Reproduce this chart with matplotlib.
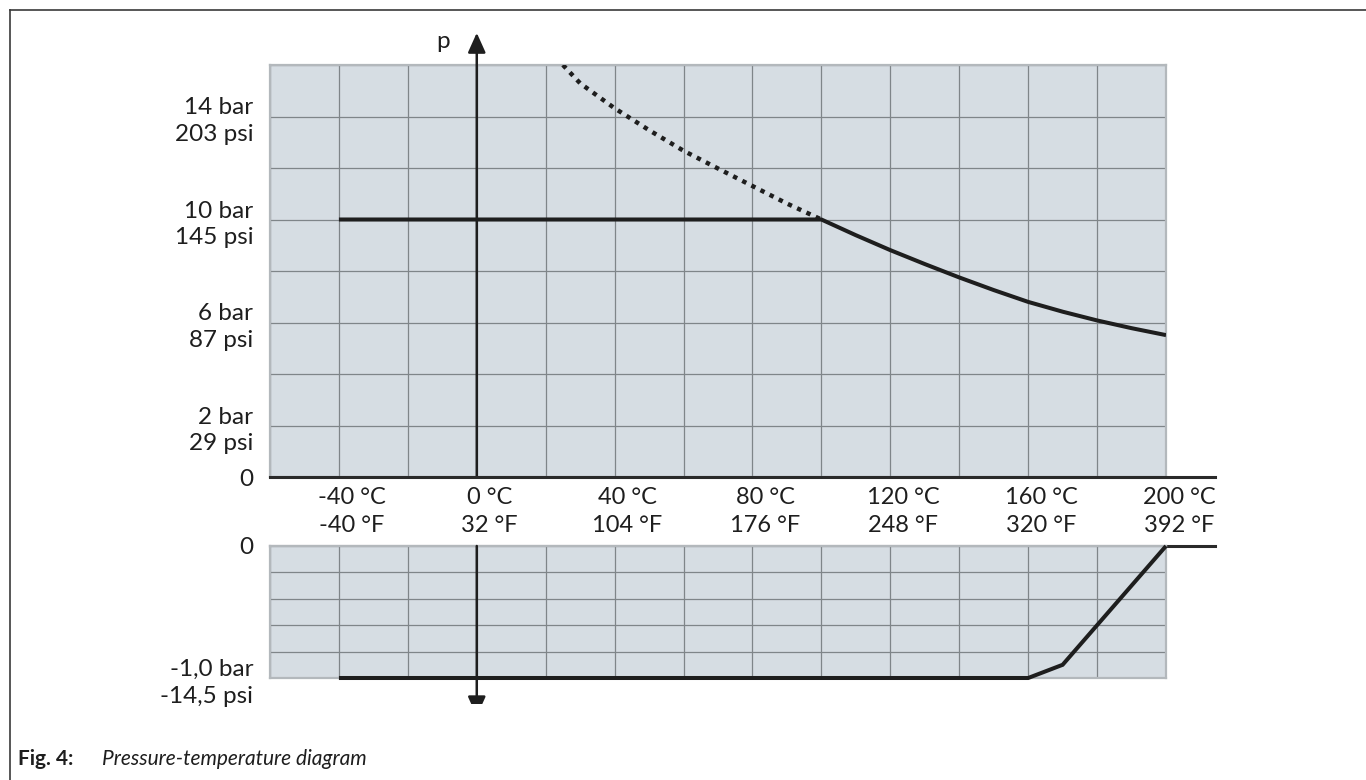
import matplotlib
matplotlib.use("Agg")
import matplotlib.pyplot as plt
from matplotlib import transforms
from matplotlib.lines import Line2D

plt.rcParams['font.family'] = ['Lato', 'DejaVu Sans']

# temperature ticks (every 20 °C) and the labelled ones
temp_grid = list(range(-60, 201, 20))
label_c = [-40, 0, 40, 80, 120, 160, 200]
label_f = [-40, 32, 104, 176, 248, 320, 392]

# upper diagram: pressure limit in bar
p_ticks = list(range(0, 17, 2))
p_labels = {0: "0", 2: "2 bar\n29 psi", 6: "6 bar\n87 psi",
            10: "10 bar\n145 psi", 14: "14 bar\n203 psi"}

max_t = [-40, 100, 110, 120, 130, 140, 150, 160, 170, 180, 190, 200]
max_p = [10, 10, 9.39, 8.81, 8.27, 7.75, 7.26, 6.80, 6.42, 6.08, 5.78, 5.51]

dot_t = [25, 30, 40, 50, 60, 70, 80, 90, 100]
dot_p = [16.0, 15.29, 14.32, 13.47, 12.67, 11.98, 11.30, 10.62, 10.0]

# lower diagram: vacuum limit in bar
vac_ticks = [0, -0.2, -0.4, -0.6, -0.8, -1.0]
vac_labels = {0: "0", -1.0: "-1,0 bar\n-14,5 psi"}
vac_t = [-40, 160, 170, 200]
vac_p = [-1.0, -1.0, -0.9, 0.0]

W, H = 1366, 780
CELL = '#d6dde3'
GRID = '#7f8589'
EDGE = '#b3b8bc'
INK = '#1e1e1e'


def box(x0, y0, x1, y1):
    return [x0 / W, 1 - y1 / H, (x1 - x0) / W, (y1 - y0) / H]


fig = plt.figure(figsize=(W / 100, H / 100), dpi=100)
ax_hi = fig.add_axes(box(270, 65, 1166, 477))
ax_band = fig.add_axes(box(270, 477, 1215, 546))
ax_lo = fig.add_axes(box(270, 546, 1166, 678))


def style_grid(ax, yticks, ylabels, ylim):
    ax.set_facecolor(CELL)
    ax.set_xlim(-60, 200)
    ax.set_ylim(*ylim)
    ax.set_xticks(temp_grid)
    ax.set_xticklabels([])
    ax.set_yticks(yticks)
    ax.set_yticklabels([ylabels.get(v, "") for v in yticks])
    ax.tick_params(length=0, pad=12, labelsize=17.5, labelcolor=INK)
    ax.grid(True, color=GRID, lw=0.9)
    ax.set_axisbelow(True)
    for s in ax.spines.values():
        s.set_color(EDGE)
        s.set_linewidth(1.6)


style_grid(ax_hi, p_ticks, p_labels, (0, 16))
style_grid(ax_lo, vac_ticks, vac_labels, (-1.0, 0))
for lab in ax_hi.get_yticklabels() + ax_lo.get_yticklabels():
    lab.set_linespacing(1.33)

# curves
ax_hi.plot(max_t, max_p, color=INK, lw=2.9, solid_capstyle='butt', zorder=4)
ax_hi.plot(dot_t, dot_p, color=INK, lw=3.2, ls=(0, (1, 1.3)),
           dash_capstyle='butt', zorder=4)
ax_lo.plot(vac_t, vac_p, color=INK, lw=2.9, solid_capstyle='butt',
           solid_joinstyle='miter', zorder=4, clip_on=False)

# vertical p axis at 0 °C
arrow = dict(arrowstyle='-|>,head_length=0.6,head_width=0.27', lw=1.8,
             color=INK, shrinkA=0, shrinkB=0, mutation_scale=20)
ax_hi.annotate('', xy=(0, 1.078), xycoords=ax_hi.get_xaxis_transform(),
               xytext=(0, 0), textcoords=ax_hi.get_xaxis_transform(),
               arrowprops=arrow, annotation_clip=False, zorder=5)
ax_hi.text(-9.8, 1.058, 'p', transform=ax_hi.get_xaxis_transform(),
           ha='center', va='center', fontsize=17.5, color=INK)
down = ax_lo.annotate('', xy=(0, -0.29), xycoords=ax_lo.get_xaxis_transform(),
                      xytext=(0, 1), textcoords=ax_lo.get_xaxis_transform(),
                      arrowprops=arrow, annotation_clip=False, zorder=5)
clip = transforms.TransformedBbox(
    transforms.Bbox([[0, 1 - 704 / H], [1, 1]]), fig.transFigure)
down.arrow_patch.set_clip_box(clip)

# temperature band between the two diagrams
ax_band.set_xlim(-60, -60 + 260 * (1215 - 270) / (1166 - 270))
ax_band.set_ylim(0, 1)
ax_band.set_xticks([])
ax_band.set_yticks([])
for side in ['left', 'right']:
    ax_band.spines[side].set_visible(False)
for side in ['top', 'bottom']:
    ax_band.spines[side].set_color('#2a2a2a')
    ax_band.spines[side].set_linewidth(2.2)
shifted = transforms.offset_copy(ax_band.transData, fig=fig, x=13, y=0,
                                 units='dots')
for c, f in zip(label_c, label_f):
    ax_band.text(c, 0.5, f"{c} °C\n{f} °F", transform=shifted,
                 ha='center', va='center', fontsize=17, color=INK,
                 linespacing=1.36, clip_on=True)

# page frame and caption
fig.add_artist(Line2D([10 / W, 10 / W], [0, 1 - 9.5 / H],
                      transform=fig.transFigure, color='#3a3a3a', lw=1.2))
fig.add_artist(Line2D([10 / W, 1], [1 - 9.5 / H, 1 - 9.5 / H],
                      transform=fig.transFigure, color='#3a3a3a', lw=1.2))
fig.text(18 / W, 1 - 759 / H, 'Fig. 4:', fontsize=15, weight='bold',
         va='center', color=INK)
fig.text(102 / W, 1 - 759 / H, 'Pressure-temperature diagram', fontsize=15,
         style='italic', va='center', color=INK)

fig.savefig('out.png', dpi=100)
